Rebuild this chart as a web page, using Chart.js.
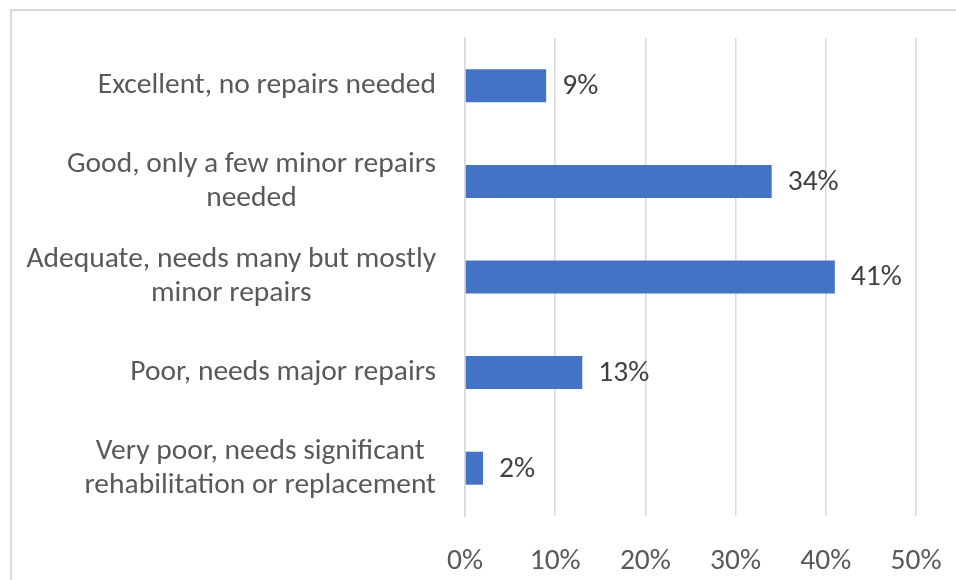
<!DOCTYPE html>
<html>
<head>
<meta charset="utf-8">
<script src="https://cdn.jsdelivr.net/npm/chart.js@4.4.1/dist/chart.umd.min.js"></script>
<style>
  html,body{margin:0;padding:0;background:#fff;overflow:hidden;}
  #frame{position:absolute;left:10px;top:9px;width:1000px;height:1000px;border-left:2px solid #d9d9d9;border-top:2px solid #d9d9d9;}
  #wrap{position:absolute;left:0;top:0;width:956px;height:580px;}
</style>
</head>
<body>
<div id="frame"></div>
<div id="wrap"><canvas id="condChart" width="956" height="580"></canvas></div>
<script>
/* ===== Data ===== */
const CATEGORIES = [
  ['Excellent, no repairs needed'],
  ['Good, only a few minor repairs', 'needed'],
  ['Adequate, needs many but mostly', 'minor repairs'],
  ['Poor, needs major repairs'],
  ['Very poor, needs significant', 'rehabilitation or replacement'],
];
const SHARES = [9, 34, 41, 13, 2];
const X_TICKS = [0, 10, 20, 30, 40, 50];

const FONT = 'Carlito, Calibri, Lato, sans-serif';
const FONT_SIZE = 29.5;
const AXIS_GREY = '#595959';
const LABEL_GREY = '#404040';
const BLUE = '#4472C4';

// category labels: block right-aligned, lines centred within the block
const catLabels = {
  id:'catLabels',
  afterDraw(chart){
    const {ctx:c, scales:{y}} = chart;
    const right = chart.chartArea.left - 29;
    const lh = 34;
    c.save();
    c.font = FONT_SIZE + 'px ' + FONT;
    c.fillStyle = AXIS_GREY;
    c.textAlign = 'center';
    c.textBaseline = 'middle';
    CATEGORIES.forEach((lines, i) => {
      const w = Math.max(...lines.map(l => c.measureText(l).width));
      const cx = right - w / 2;
      const cy = y.getPixelForTick(i);
      const y0 = cy - (lines.length - 1) * lh / 2;
      lines.forEach((l, k) => c.fillText(l, cx, y0 + k * lh));
    });
    c.restore();
  }
};

// value labels just past the end of each bar
const valueLabels = {
  id:'valueLabels',
  afterDatasetsDraw(chart){
    const c = chart.ctx;
    const meta = chart.getDatasetMeta(0);
    c.save();
    c.font = FONT_SIZE + 'px ' + FONT;
    c.fillStyle = LABEL_GREY;
    c.textAlign = 'left';
    c.textBaseline = 'middle';
    meta.data.forEach((bar, i) => {
      c.fillText(SHARES[i] + '%', bar.x + 16, bar.y + 1);
    });
    c.restore();
  }
};

new Chart(document.getElementById('condChart'), {
  type:'bar',
  plugins:[catLabels, valueLabels],
  data:{
    labels: CATEGORIES,
    datasets:[{
      data: SHARES,
      backgroundColor: BLUE,
      borderWidth: 0,
      categoryPercentage: 1,
      barPercentage: 0.345,
    }]
  },
  options:{
    indexAxis:'y',
    responsive:false,
    animation:false,
    layout:{padding:{left:0, right:40, top:38, bottom:0}},
    plugins:{legend:{display:false}, tooltip:{enabled:false}},
    scales:{
      x:{
        min:0, max:50,
        afterBuildTicks(scale){ scale.ticks = X_TICKS.map(v => ({value:v})); },
        afterFit(scale){ scale.height = 64; scale.paddingRight = 0; },
        grid:{color:'#d9d9d9', lineWidth:1.5, drawTicks:false},
        border:{display:false},
        ticks:{padding:28, color:AXIS_GREY, font:{family:FONT, size:FONT_SIZE}, callback:v => v + '%'}
      },
      y:{
        afterFit(scale){ scale.width = 465; },
        grid:{display:false},
        border:{display:true, color:'#d9d9d9', width:1.5},
        ticks:{display:false}
      }
    }
  }
});
</script>
</body>
</html>
